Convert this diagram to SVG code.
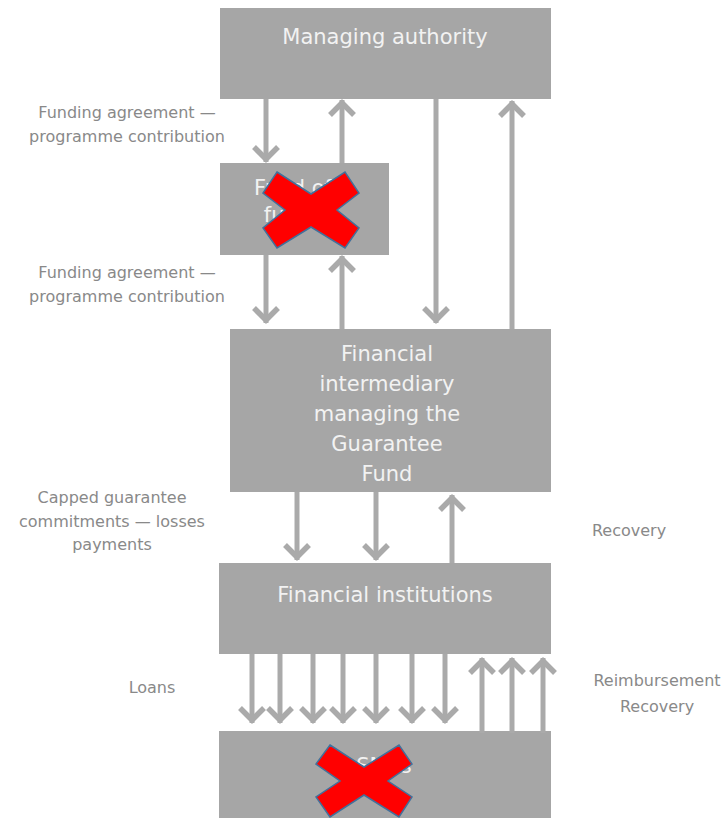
<svg xmlns="http://www.w3.org/2000/svg" width="728" height="818" viewBox="0 0 728 818">
<style>
.box{fill:#a6a6a6}
.bt{font-family:"DejaVu Sans","Liberation Sans",sans-serif;font-size:21px;fill:#f2f2f2;text-anchor:middle}
.lb{font-family:"DejaVu Sans","Liberation Sans",sans-serif;font-size:16px;fill:#898989;text-anchor:middle}
.ar{stroke:#aaaaaa;stroke-width:5;fill:none;marker-end:url(#ah)}
.x{fill:#ff0000;stroke:#41719c;stroke-width:1.5;stroke-linejoin:miter}
</style>
<defs>
<marker id="ah" markerUnits="userSpaceOnUse" markerWidth="30" markerHeight="30" viewBox="-20 -15 30 30" refX="0" refY="0" orient="auto" overflow="visible">
<path d="M-15,-12 L-3,0 L-15,12" fill="none" stroke="#aaaaaa" stroke-width="5.5"/>
</marker>
</defs>
<rect width="728" height="818" fill="#ffffff"/>
<g id="managing-authority">
<rect class="box" x="220" y="8" width="331" height="91"/>
<text class="bt" x="385" y="44">Managing authority</text>
</g>
<g id="fund-of-funds">
<rect class="box" x="220" y="163" width="169" height="92"/>
<text class="bt" x="293" y="195">Fund of</text>
<text class="bt" x="293" y="222">funds</text>
</g>
<g id="financial-intermediary">
<rect class="box" x="230" y="329" width="321" height="163"/>
<text class="bt" x="387" y="361">Financial</text>
<text class="bt" x="387" y="391">intermediary</text>
<text class="bt" x="387" y="421">managing the</text>
<text class="bt" x="387" y="451">Guarantee</text>
<text class="bt" x="387" y="481">Fund</text>
</g>
<g id="financial-institutions">
<rect class="box" x="219" y="563" width="332" height="91"/>
<text class="bt" x="385" y="602">Financial institutions</text>
</g>
<g id="smes">
<rect class="box" x="219" y="731" width="332" height="87"/>
<text class="bt" x="384" y="773">SMEs</text>
</g>
<g id="connectors">
<line class="ar" x1="266" y1="99" x2="266" y2="162"/>
<line class="ar" x1="342" y1="163" x2="342" y2="100"/>
<line class="ar" x1="436" y1="99" x2="436" y2="323"/>
<line class="ar" x1="512" y1="329" x2="512" y2="101"/>
<line class="ar" x1="266" y1="255" x2="266" y2="323"/>
<line class="ar" x1="342" y1="329" x2="342" y2="256"/>
<line class="ar" x1="297" y1="492" x2="297" y2="560"/>
<line class="ar" x1="376" y1="492" x2="376" y2="560"/>
<line class="ar" x1="452" y1="563" x2="452" y2="495"/>
<line class="ar" x1="252" y1="654" x2="252" y2="723"/>
<line class="ar" x1="280" y1="654" x2="280" y2="723"/>
<line class="ar" x1="313" y1="654" x2="313" y2="723"/>
<line class="ar" x1="343" y1="654" x2="343" y2="723"/>
<line class="ar" x1="376" y1="654" x2="376" y2="723"/>
<line class="ar" x1="412" y1="654" x2="412" y2="723"/>
<line class="ar" x1="445" y1="654" x2="445" y2="723"/>
<line class="ar" x1="482" y1="733" x2="482" y2="658"/>
<line class="ar" x1="512" y1="733" x2="512" y2="658"/>
<line class="ar" x1="543" y1="733" x2="543" y2="658"/>
</g>
<g id="labels">
<text class="lb" x="127" y="118">Funding agreement —</text>
<text class="lb" x="127" y="142">programme contribution</text>
<text class="lb" x="127" y="278">Funding agreement —</text>
<text class="lb" x="127" y="302">programme contribution</text>
<text class="lb" x="112" y="503">Capped guarantee</text>
<text class="lb" x="112" y="527">commitments — losses</text>
<text class="lb" x="112" y="550">payments</text>
<text class="lb" x="152" y="693">Loans</text>
<text class="lb" x="629" y="536">Recovery</text>
<text class="lb" x="657" y="686">Reimbursement</text>
<text class="lb" x="657" y="712">Recovery</text>
</g>
<g id="cross-1">
<polygon class="x" points="277,172 311,194 345,172 359,193 337,210 359,228 345,248 311,227 277,248 263,228 285,210 263,193"/>
</g>
<g id="cross-2">
<polygon class="x" points="330,745 364,767 399,745 412,764 388,781 412,797 399,817 364,795 330,817 316,797 340,781 316,764"/>
</g>
</svg>
